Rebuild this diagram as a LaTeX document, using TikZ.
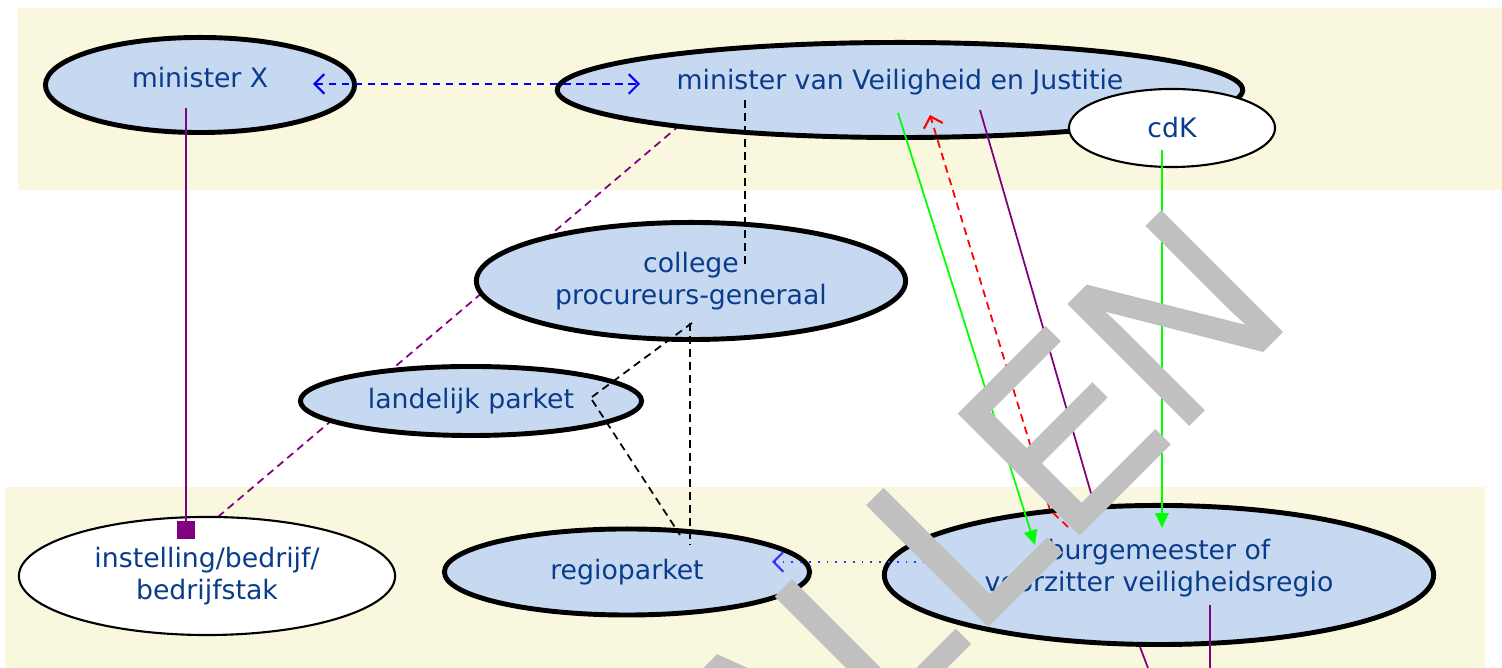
\documentclass[tikz,border=0pt]{standalone}
\usepackage{fontspec}
\setmainfont{DejaVu Sans}
\newfontfamily\stampfont[FakeBold=1.2]{Liberation Sans}
\usetikzlibrary{shapes.geometric,arrows.meta,calc}
\pgfdeclarelayer{background}
\pgfdeclarelayer{behind}
\pgfsetlayers{background,behind,main}

\definecolor{bandyellow}{RGB}{249,247,222}
\definecolor{actorblue}{RGB}{198,217,240}
\definecolor{labelblue}{RGB}{10,60,140}
\definecolor{linkpurple}{RGB}{128,0,128}
\definecolor{stampgray}{RGB}{192,192,192}
\newcommand\labelfont{\fontsize{7.6pt}{9.1pt}\selectfont}

\tikzset{
    openbarb/.tip={Straight Barb[length=2.8pt,width=5.6pt,line width=0.6pt]},
    solidtri/.tip={Triangle[length=4.2pt,width=3.8pt]},
    sqtip/.tip={Square[length=5pt,width=5.4pt]}
}

\begin{document}
\begin{tikzpicture}[
    x=0.01cm, y=-0.01cm,
    actor/.style={ellipse, draw=black, line width=1.4pt, fill=actorblue, text=labelblue, align=center, inner sep=0pt, font=\labelfont},
    party/.style={actor, line width=0.6pt, fill=white},
    link/.style={line width=0.5pt},
    dashlink/.style={link, dash pattern=on 2.2pt off 1.5pt},
    stamp/.style={text=stampgray, inner sep=0pt, font=\fontsize{70pt}{70pt}\selectfont\stampfont}
    ]
    \useasboundingbox (0,0) rectangle (1502,668);

    %Bands
    \begin{pgfonlayer}{background}
        \fill[bandyellow] (18,8) rectangle (1502,190);
        \fill[bandyellow] (5,487) rectangle (1485,668);
    \end{pgfonlayer}

    %Nodes
    \node[actor, minimum width=3.09cm, minimum height=0.95cm, text depth=4.5pt] (ministerX)   at (200,85)   {minister X};
    \node[actor, minimum width=6.85cm, minimum height=0.95cm, text depth=6.3pt] (ministerVJ)  at (900,90)   {minister van Veiligheid en Justitie};
    \node[party, minimum width=2.06cm, minimum height=0.78cm] (cdK)         at (1172,128) {cdK};
    \node[actor, minimum width=4.29cm, minimum height=1.17cm] (college)     at (691,281)  {college\\procureurs-generaal};
    \node[actor, minimum width=3.41cm, minimum height=0.69cm] (landelijk)   at (471,401)  {landelijk parket};
    \node[party, minimum width=3.76cm, minimum height=1.18cm] (instelling)  at (207,576)  {instelling/bedrijf/\\bedrijfstak};
    \node[actor, minimum width=3.65cm, minimum height=0.86cm] (regioparket) at (627,572)  {regioparket};
    \node[actor, minimum width=5.49cm, minimum height=1.39cm, text depth=5.5pt] (burgemeester) at (1159,575) {burgemeester of\\voorzitter veiligheidsregio};
    \coordinate (offA) at (1210,668);
    \coordinate (offB) at (1148,668);

    %Lines
    \begin{pgfonlayer}{behind}
        \draw[dashlink, linkpurple] ($(ministerVJ)+(-200,18)$) -- ($(instelling)+(-8,-43)$);
    \end{pgfonlayer}
    \draw[dashlink, blue, openbarb-openbarb] ($(ministerX)+(113,-1)$) -- ($(ministerVJ)+(-260,-6)$);
    \draw[link, linkpurple, -sqtip] ($(ministerX)+(-14,23)$) -- ($(instelling)+(-21,-37)$);
    \draw[dashlink] ($(ministerVJ)+(-155,10)$) -- ($(college)+(54,-13)$);
    \draw[dashlink] ($(college)+(-1,42)$) -- ($(regioparket)+(63,-27)$);
    \draw[dashlink] ($(landelijk)+(121,-4)$) -- ($(college)+(1,42)$);
    \draw[dashlink] ($(landelijk)+(121,-1)$) -- ($(regioparket)+(53,-37)$);
    \draw[link, green, -solidtri] ($(ministerVJ)+(-2,23)$) -- ($(burgemeester)+(-124,-30)$);
    \draw[dashlink, red, -openbarb] ($(burgemeester)+(-91,-48)$) -- (1050,510) -- ($(ministerVJ)+(30,25)$);
    \draw[link, linkpurple] ($(ministerVJ)+(80,20)$) -- ($(burgemeester)+(-64,-68)$);
    \draw[link, green, -solidtri] ($(cdK)+(-10,22)$) -- ($(burgemeester)+(3,-47)$);
    \draw[link, blue!80, dotted, -openbarb] ($(burgemeester)+(-234,-13)$) -- ($(regioparket)+(145,-10)$);
    \draw[link, linkpurple] ($(burgemeester)+(51,30)$) -- (offA);
    \draw[link, linkpurple] ($(burgemeester.south)+(-19,0)$) -- (offB);

    %Stamp
    \begin{scope}
        \clip (0,0) rectangle (1502,668);
        \node[stamp, rotate=45, xscale=0.945, anchor=base east] (stampText) at (1295,318) {VERVALLEN};
    \end{scope}
\end{tikzpicture}
\end{document}
